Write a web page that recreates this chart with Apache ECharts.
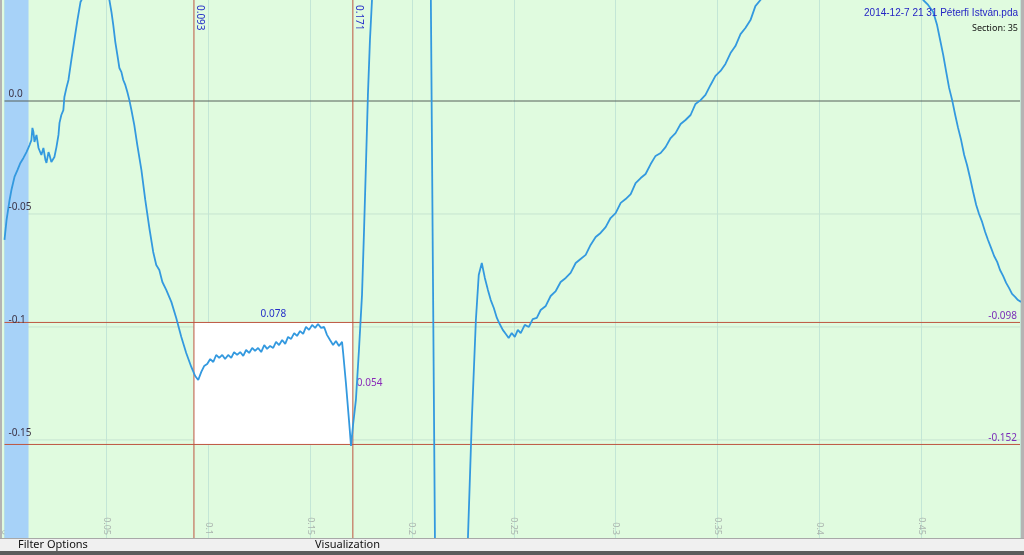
<!DOCTYPE html>
<html><head><meta charset="utf-8">
<script src="https://cdn.jsdelivr.net/npm/echarts@6/dist/echarts.min.js"></script>
<style>html,body{margin:0;padding:0;background:#fff}#c{width:1024px;height:555px}</style>
</head><body><div id="c"></div>
<script>
// ---- data ----
const xVals = [
0,0.0010,0.0025,0.0034,0.0049,0.0064,0.0078,0.0093,0.0108,0.0123,0.0132,0.0137,0.0142,0.0147,0.0157,0.0167,0.0181,0.0191,0.0201,0.0206,0.0216,0.0221,0.0230,0.0245,0.0255,0.0265,0.0270,0.0279,0.0289,0.0294,0.0304,0.0314,0.0328,0.0343,0.0358,0.0373,0.0420,0.0470,
0.0515,0.0525,0.0534,0.0544,0.0554,0.0564,0.0574,0.0583,0.0593,0.0603,0.0613,0.0623,0.0637,0.0652,0.0672,0.0691,0.0711,0.0730,0.0745,0.0760,0.0775,0.0794,0.0819,0.0843,0.0868,0.0892,0.0917,0.0936,0.0951,0.0966,0.0980,
0.0995,0.1010,0.1025,0.1039,0.1054,0.1069,0.1083,0.1098,0.1113,0.1127,0.1142,0.1157,0.1172,0.1186,0.1201,0.1216,0.1230,0.1245,0.1260,0.1275,0.1289,0.1304,0.1319,0.1333,0.1348,0.1363,0.1378,0.1392,0.1407,0.1422,0.1436,0.1451,0.1466,0.1480,0.1495,0.1510,0.1525,0.1539,0.1554,0.1569,0.1583,0.1598,0.1613,0.1627,0.1642,0.1657,0.1662,
0.1676,0.1691,0.1701,0.1711,0.1725,0.1740,0.1755,0.1765,0.1775,0.1784,0.1794,0.1804,0.1900,0.2000,0.2085,
0.2093,0.2103,0.2113,0.2140,0.2200,0.2250,0.2275,0.2294,0.2314,0.2328,0.2343,
0.2358,0.2373,0.2387,0.2402,0.2417,0.2431,0.2446,0.2461,0.2475,0.2490,0.2505,0.2520,0.2534,0.2554,0.2574,0.2593,0.2613,0.2632,
0.2657,0.2681,0.2706,0.2730,0.2755,0.2779,0.2804,0.2828,0.2853,0.2877,0.2902,0.2926,0.2951,0.2975,0.3000,0.3025,0.3049,0.3074,0.3098,0.3123,0.3147,0.3172,0.3196,0.3221,0.3245,0.3270,0.3294,0.3319,0.3343,0.3368,0.3392,0.3417,0.3441,0.3466,0.3490,0.3515,0.3539,0.3564,0.3588,0.3613,0.3637,0.3662,0.3686,0.3711,
0.3900,0.4200,0.4400,
0.4510,0.4534,0.4559,0.4578,0.4593,0.4608,0.4623,0.4637,0.4652,0.4667,0.4681,0.4696,0.4711,0.4725,0.4740,0.4755,0.4770,0.4784,0.4799,0.4814,0.4828,0.4843,0.4858,0.4873,0.4887,0.4902,0.4917,0.4931,0.4946,0.4961,0.4975,0.4990
];
const yVals = [
-0.0615,-0.0527,-0.0438,-0.0394,-0.0336,-0.0305,-0.0274,-0.0252,-0.0226,-0.0195,-0.0173,-0.0119,-0.0137,-0.0181,-0.0150,-0.0208,-0.0239,-0.0208,-0.0261,-0.0274,-0.0226,-0.0239,-0.0270,-0.0248,-0.0204,-0.0150,-0.0097,-0.0062,-0.0040,0.0018,0.0058,0.0093,0.0181,0.0270,0.0358,0.0438,0.0520,0.0520,
0.0447,0.0394,0.0336,0.0261,0.0204,0.0146,0.0128,0.0093,0.0071,0.0040,0.0004,-0.0040,-0.0106,-0.0195,-0.0305,-0.0438,-0.0562,-0.0668,-0.0726,-0.0748,-0.0801,-0.0836,-0.0889,-0.0960,-0.1044,-0.1115,-0.1177,-0.1217,-0.1235,-0.1199,-0.1173,
-0.1164,-0.1142,-0.1155,-0.1124,-0.1137,-0.1124,-0.1142,-0.1124,-0.1137,-0.1111,-0.1124,-0.1111,-0.1128,-0.1102,-0.1115,-0.1093,-0.1106,-0.1093,-0.1111,-0.1080,-0.1097,-0.1084,-0.1093,-0.1066,-0.1080,-0.1058,-0.1075,-0.1044,-0.1053,-0.1027,-0.1040,-0.1018,-0.1031,-0.1000,-0.1013,-0.0991,-0.1004,-0.0987,-0.1004,-0.1000,-0.1035,-0.1058,-0.1080,-0.1062,-0.1084,-0.1066,-0.1111,
-0.1248,-0.1412,-0.1527,-0.1434,-0.1323,-0.1102,-0.0858,-0.0571,-0.0261,0.0027,0.0270,0.0447,0.1500,0.1500,0.0600,
0.0447,-0.0748,-0.1934,-0.2600,-0.2800,-0.2400,-0.1934,-0.1412,-0.0969,-0.0770,-0.0717,
-0.0783,-0.0836,-0.0881,-0.0916,-0.0960,-0.0987,-0.1013,-0.1031,-0.1049,-0.1027,-0.1044,-0.1013,-0.1027,-0.0991,-0.1000,-0.0965,-0.0960,-0.0925,
-0.0907,-0.0863,-0.0841,-0.0801,-0.0783,-0.0761,-0.0717,-0.0699,-0.0681,-0.0637,-0.0602,-0.0584,-0.0558,-0.0518,-0.0496,-0.0451,-0.0434,-0.0412,-0.0363,-0.0341,-0.0323,-0.0279,-0.0243,-0.0230,-0.0204,-0.0164,-0.0142,-0.0102,-0.0084,-0.0062,-0.0013,0.0004,0.0027,0.0071,0.0111,0.0133,0.0164,0.0212,0.0243,0.0296,0.0323,0.0358,0.0420,0.0447,
0.0800,0.0900,0.0700,
0.0447,0.0425,0.0394,0.0336,0.0270,0.0204,0.0128,0.0058,0.0004,-0.0062,-0.0119,-0.0173,-0.0239,-0.0283,-0.0341,-0.0403,-0.0460,-0.0500,-0.0535,-0.0580,-0.0615,-0.0650,-0.0686,-0.0712,-0.0748,-0.0774,-0.0805,-0.0827,-0.0854,-0.0867,-0.0881,-0.0889
];
const yTicks = [0, -0.05, -0.1, -0.15];
const yTickLabels = ['0.0', '-0.05', '-0.1', '-0.15'];
const markerX = [0.093, 0.171];
const markerY = [-0.098, -0.152];
const bandX = [0, 0.0118];
const titleText = '2014-12-7 21 31 Péterfi István.pda';
const sectionText = 'Section: 35';
const tabLabels = ['Filter Options', 'Visualization'];

// ---- chart ----
const X_MIN = 0, X_MAX = 0.4985, Y_MIN = -0.1934, Y_MAX = 0.0447;
const FONT = 'Noto Sans';
const lineData = xVals.map((x, i) => [x, yVals[i]]);
const chart = echarts.init(document.getElementById('c'), null, {renderer: 'canvas'});

function refSeries(points, color, z) {
  return {type: 'line', data: points, z: z, silent: true, showSymbol: false, symbol: 'none',
    lineStyle: {color: color, width: 1, type: 'solid'}, itemStyle: {color: color}, emphasis: {disabled: true}};
}
const refs = [];
yTicks.forEach(v => refs.push(refSeries([[X_MIN, v], [X_MAX, v]], v === 0 ? '#56605a' : '#c6e4d0', v === 0 ? 1 : 0)));
markerY.forEach(v => refs.push(refSeries([[X_MIN, v], [X_MAX, v]], '#bd5540', 2)));
markerX.forEach(v => refs.push(refSeries([[v, Y_MIN], [v, Y_MAX]], '#bd5540', 2)));

const option = {
  backgroundColor: '#e0fbdf',
  animation: false,
  grid: {left: 3, right: 4, top: 0, bottom: 17, containLabel: false},
  xAxis: {
    type: 'value', min: X_MIN, max: X_MAX, interval: 0.05,
    axisLine: {show: false}, axisTick: {show: false},
    splitLine: {show: true, lineStyle: {color: '#c3e6d6', width: 1}},
    axisLabel: {inside: true, rotate: -90, margin: 3, color: '#aab4ae', fontSize: 9, fontFamily: FONT,
      padding: [0, 0, 8, 0], showMaxLabel: false, formatter: v => String(v)}
  },
  yAxis: {
    type: 'value', min: Y_MIN, max: Y_MAX,
    axisLine: {show: false}, axisTick: {show: false}, axisLabel: {show: false}, splitLine: {show: false}
  },
  series: [
    {
      type: 'line', data: [], z: -1, silent: true,
      markArea: {
        silent: true,
        data: [
          [{xAxis: bandX[0], itemStyle: {color: '#a7d2f8', opacity: 1}}, {xAxis: bandX[1]}],
          [{coord: [markerX[0], markerY[0]], itemStyle: {color: '#ffffff', opacity: 1},
            label: {show: true, position: 'top', formatter: (markerX[1] - markerX[0]).toFixed(3), color: '#2630c8', fontSize: 10, fontFamily: FONT, distance: 3}},
           {coord: [markerX[1], markerY[1]]}],
          [{coord: [markerX[0], markerY[0]], itemStyle: {color: 'rgba(0,0,0,0)'},
            label: {show: true, position: 'right', formatter: (markerY[0] - markerY[1]).toFixed(3), color: '#8a2ab8', fontSize: 10, fontFamily: FONT, distance: 4}},
           {coord: [markerX[1], markerY[1]]}]
        ]
      }
    }
  ].concat(refs).concat([
    {
      type: 'line', data: lineData, z: 3, showSymbol: false, clip: true,
      lineStyle: {color: '#3399df', width: 1.8}, itemStyle: {color: '#3399df'}
    }
  ])
};
chart.setOption(option);

// ---- text labels placed through the chart's own scales ----
const P = (x, y) => chart.convertToPixel({gridIndex: 0}, [x, y]);
const g = [];
yTicks.forEach((v, i) => {
  const p = P(X_MIN, v);
  g.push({type: 'text', z: 50, x: p[0] + 4, y: p[1] - 2, silent: true,
    style: {text: yTickLabels[i], fill: '#3b3346', font: '10px "Noto Sans"', textAlign: 'left', textVerticalAlign: 'bottom'}});
});
markerY.forEach(v => {
  const p = P(X_MAX, v);
  g.push({type: 'text', z: 50, x: p[0] - 3, y: p[1] - 1, silent: true,
    style: {text: v.toFixed(3), fill: '#7a2db8', font: '10px "Noto Sans"', textAlign: 'right', textVerticalAlign: 'bottom'}});
});
markerX.forEach(v => {
  const p = P(v, Y_MAX);
  g.push({type: 'text', z: 50, x: p[0] + 1, y: p[1] + 5, rotation: -Math.PI / 2, silent: true,
    style: {text: v.toFixed(3), fill: '#2630c8', font: '10px "Noto Sans"', textAlign: 'left', textVerticalAlign: 'bottom'}});
});
g.push(
  {type: 'rect', z: 100, shape: {x: 0, y: 538, width: 1024, height: 17}, style: {fill: '#f0f0f0'}},
  {type: 'rect', z: 101, shape: {x: 0, y: 538, width: 1024, height: 1}, style: {fill: '#a8a8a8'}},
  {type: 'rect', z: 101, shape: {x: 0, y: 551, width: 1024, height: 4}, style: {fill: '#5c5c5c'}},
  {type: 'rect', z: 101, shape: {x: 0, y: 0, width: 2, height: 538}, style: {fill: '#b4b4b4'}},
  {type: 'rect', z: 101, shape: {x: 1021, y: 0, width: 3, height: 538}, style: {fill: '#b4b4b4'}},
  {type: 'text', z: 102, x: 18, y: 539, style: {text: tabLabels[0], fill: '#111', font: '11px "Noto Sans"'}},
  {type: 'text', z: 102, x: 315, y: 539, style: {text: tabLabels[1], fill: '#111', font: '11px "Noto Sans"'}},
  {type: 'text', z: 102, x: 1018, y: 8, style: {text: titleText, fill: '#2424c4', font: '10px "Liberation Sans"', textAlign: 'right'}},
  {type: 'text', z: 102, x: 1018, y: 24, style: {text: sectionText, fill: '#111', font: '9px "Noto Sans"', textAlign: 'right'}}
);
chart.setOption({graphic: g});
</script>
</body></html>
